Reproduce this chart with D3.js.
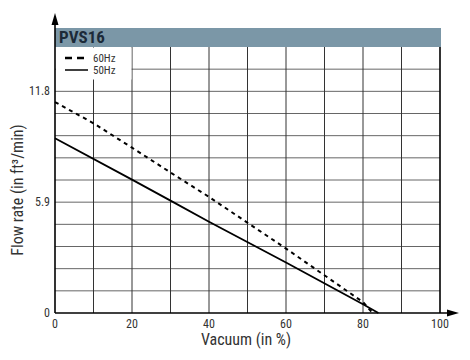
<!DOCTYPE html>
<html><head><meta charset="utf-8">
<script src="https://cdn.jsdelivr.net/npm/d3@7"></script>
<style>body{margin:0;background:#fff}svg{display:block}</style>
</head><body>
<svg id="c" width="470" height="360"></svg>
<script>
const title = "PVS16";
const xTicks = [0, 20, 40, 60, 80, 100];
const yTicks = [0, 5.9, 11.8];
const seriesNames = ["60Hz", "50Hz"];
const vac60 = [0, 10, 20, 30, 40, 60, 80, 82.5];
const flow60 = [11.23, 10.1, 8.8, 7.48, 6.18, 3.43, 0.58, 0];
const vac50 = [0, 20, 30, 40, 60, 80, 84];
const flow50 = [9.3, 7.1, 5.98, 4.86, 2.69, 0.47, 0];

const svg = d3.select("#c");
const font = "'Liberation Sans Narrow','Arial Narrow','Roboto Condensed',sans-serif";
const x = d3.scaleLinear().domain([0, 100]).range([55, 440]);
const y = d3.scaleLinear().domain([0, 14.16]).range([313, 47]);

// header band
svg.append("rect").attr("x", 55).attr("y", 28).attr("width", 386).attr("height", 19).attr("fill", "#7b97a7");
svg.append("text").attr("x", 59).attr("y", 43).text(title)
  .attr("font-family", font).attr("font-weight", "bold").attr("font-size", 17).attr("fill", "#1c2a38");

// grid
const g = svg.append("g");
d3.range(1, 12).forEach(k => {
  g.append("line").attr("x1", x(0)).attr("x2", x(100)).attr("y1", y(k * 1.18)).attr("y2", y(k * 1.18))
    .attr("stroke", "#666").attr("stroke-width", 1);
});
d3.range(10, 100, 10).forEach(v => {
  g.append("line").attr("x1", x(v)).attr("x2", x(v)).attr("y1", y(0)).attr("y2", 47)
    .attr("stroke", "#333").attr("stroke-width", 1);
});
g.append("line").attr("x1", x(100)).attr("x2", x(100)).attr("y1", y(0)).attr("y2", 47)
  .attr("stroke", "#000").attr("stroke-width", 1.6);

// legend background
svg.append("rect").attr("x", 56).attr("y", 47.5).attr("width", 75.5).attr("height", 32).attr("fill", "#fff");

// axes
svg.append("line").attr("x1", 55).attr("x2", 55).attr("y1", 313).attr("y2", 22).attr("stroke", "#000").attr("stroke-width", 1.6);
svg.append("path").attr("d", "M55,13 L51.5,25 L58.5,25 Z").attr("fill", "#000");
svg.append("line").attr("x1", 55).attr("x2", 450).attr("y1", 313).attr("y2", 313).attr("stroke", "#000").attr("stroke-width", 1.6);
svg.append("path").attr("d", "M459,313 L447,309.5 L447,316.5 Z").attr("fill", "#000");

// tick labels
svg.selectAll(".xt").data(xTicks).enter().append("text")
  .attr("x", d => x(d)).attr("y", 328).attr("text-anchor", "middle").text(d => d)
  .attr("font-family", font).attr("font-size", 12).attr("fill", "#333");
svg.selectAll(".yt").data(yTicks).enter().append("text")
  .attr("x", 50).attr("y", d => y(d) + 4).attr("text-anchor", "end").text(d => d)
  .attr("font-family", font).attr("font-size", 12).attr("fill", "#333");

// axis titles
svg.append("text").attr("x", 246).attr("y", 345).attr("text-anchor", "middle").text("Vacuum (in %)")
  .attr("font-family", font).attr("font-size", 16).attr("fill", "#333");
svg.append("text").attr("transform", "translate(23,190) rotate(-90)").attr("text-anchor", "middle")
  .text("Flow rate (in ft³/min)").attr("font-family", font).attr("font-size", 16).attr("fill", "#333");

// lines
const line = d3.line().x(d => x(d[0])).y(d => y(d[1]));
svg.append("path").datum(vac60.map((v, i) => [v, flow60[i]])).attr("d", line)
  .attr("fill", "none").attr("stroke", "#000").attr("stroke-width", 2).attr("stroke-dasharray", "4,4");
svg.append("path").datum(vac50.map((v, i) => [v, flow50[i]])).attr("d", line)
  .attr("fill", "none").attr("stroke", "#000").attr("stroke-width", 1.8);

// legend
svg.append("line").attr("x1", 65).attr("x2", 88).attr("y1", 58).attr("y2", 58)
  .attr("stroke", "#000").attr("stroke-width", 2.5).attr("stroke-dasharray", "7,5");
svg.append("line").attr("x1", 65).attr("x2", 88).attr("y1", 70).attr("y2", 70)
  .attr("stroke", "#000").attr("stroke-width", 1.5);
svg.append("text").attr("x", 93).attr("y", 62).text(seriesNames[0]).attr("font-family", font).attr("font-size", 11).attr("fill", "#333");
svg.append("text").attr("x", 93).attr("y", 74).text(seriesNames[1]).attr("font-family", font).attr("font-size", 11).attr("fill", "#333");
</script>
</body></html>
